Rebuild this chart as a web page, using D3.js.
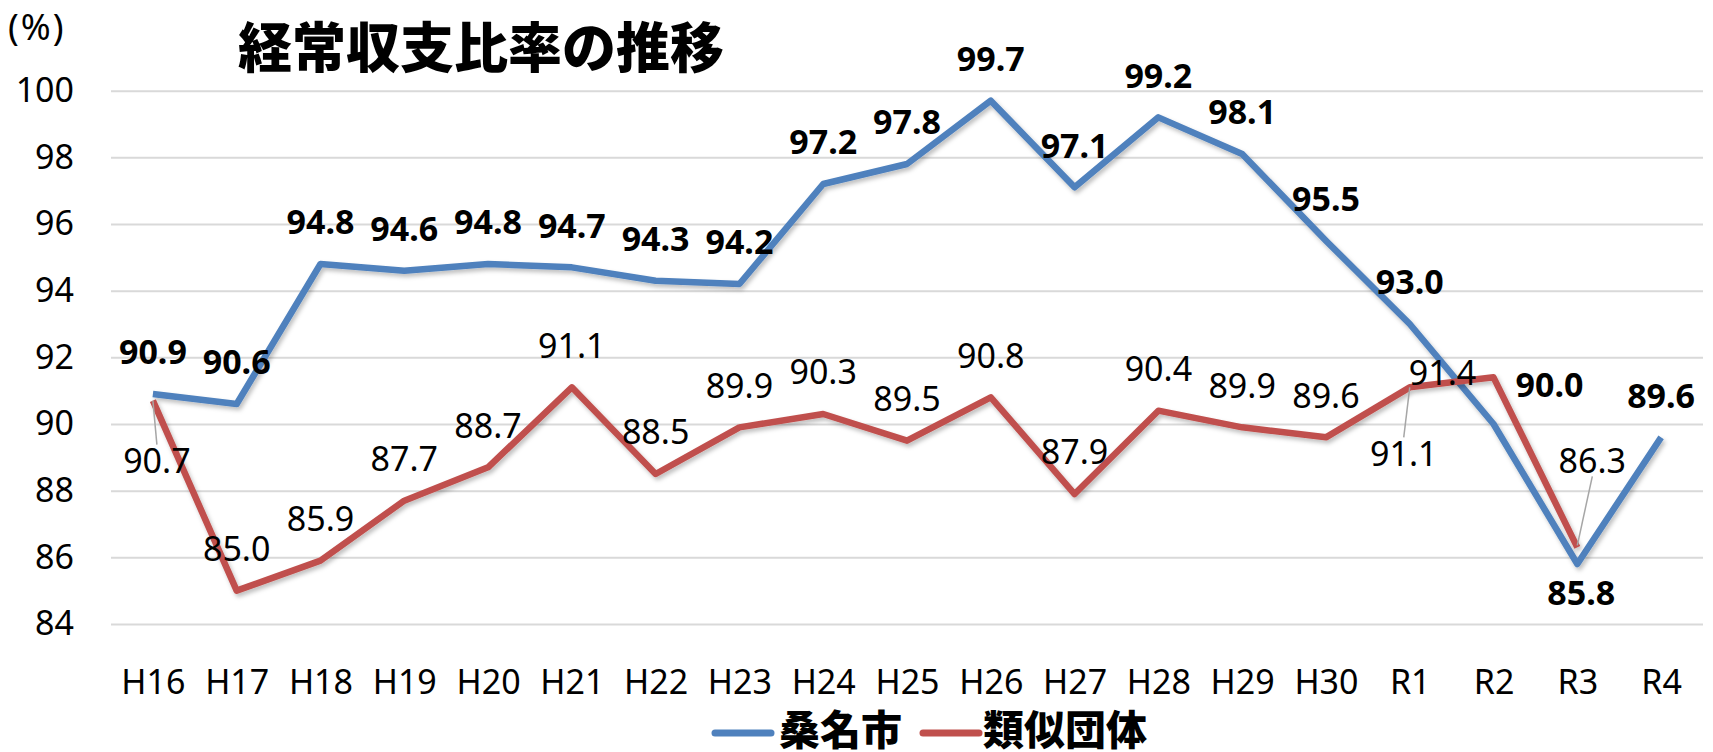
<!DOCTYPE html>
<html>
<head>
<meta charset="utf-8">
<script src="https://cdn.jsdelivr.net/npm/d3@7"></script>
<style>
  body { margin: 0; background: #fff; }
  svg { display: block; }
</style>
</head>
<body>
<svg id="chart" width="1713" height="752"></svg>
<script>
// data
const categories = ['H16', 'H17', 'H18', 'H19', 'H20', 'H21', 'H22', 'H23', 'H24', 'H25',
                    'H26', 'H27', 'H28', 'H29', 'H30', 'R1', 'R2', 'R3', 'R4'];
const kuwana = [90.9, 90.6, 94.8, 94.6, 94.8, 94.7, 94.3, 94.2, 97.2, 97.8,
                99.7, 97.1, 99.2, 98.1, 95.5, 93.0, 90.0, 85.8, 89.6];
const ruiji  = [90.7, 85.0, 85.9, 87.7, 88.7, 91.1, 88.5, 89.9, 90.3, 89.5,
                90.8, 87.9, 90.4, 89.9, 89.6, 91.1, 91.4, 86.3, null];
const seriesNames = ['桑名市', '類似団体'];
const yTicks = [84, 86, 88, 90, 92, 94, 96, 98, 100];

const colors = ['#4f81bd', '#c0504d'];
const numFont = '"Noto Sans", "Open Sans", sans-serif';
const jpFont = '"Noto Sans CJK JP", sans-serif';

// label nudges (index -> [dx, dy] from point); default sits above
const LABEL_DY = -42;
const kuwanaNudge = { 16: [56, -39], 17: [4, 29] };
const ruijiNudge = { 0: [4, 60], 15: [-6, 66], 16: [-51, -5], 17: [15, -87] };
const ruijiLeader = { 0: true, 15: true, 17: true };

const svg = d3.select('#chart');

const x = d3.scalePoint()
  .domain(categories)
  .range([111, 1703])
  .padding(0.5);

const y = d3.scaleLinear()
  .domain([84, 100])
  .range([624, 90.7]);

// shadow like the excel one
const defs = svg.append('defs');
const f = defs.append('filter').attr('id', 'shadow')
  .attr('x', '-5%').attr('y', '-5%').attr('width', '110%').attr('height', '120%');
f.append('feDropShadow')
  .attr('dx', 2).attr('dy', 3).attr('stdDeviation', 2)
  .attr('flood-color', '#000').attr('flood-opacity', 0.25);

// y axis + gridlines
const yAxis = svg.append('g')
  .attr('transform', 'translate(111,0)')
  .call(d3.axisLeft(y).tickValues(yTicks).tickSize(-(1703 - 111)).tickPadding(37));
yAxis.select('.domain').remove();
yAxis.selectAll('.tick line').attr('stroke', '#d9d9d9').attr('stroke-width', 2);
yAxis.selectAll('.tick text')
  .attr('font-family', numFont)
  .attr('font-size', 34)
  .attr('fill', '#000');

// x axis labels
const xAxis = svg.append('g')
  .attr('transform', 'translate(0,682)')
  .call(d3.axisBottom(x).tickSize(0).tickPadding(0));
xAxis.select('.domain').remove();
xAxis.selectAll('.tick text')
  .attr('y', 0)
  .attr('dy', '0.36em')
  .attr('font-family', numFont)
  .attr('font-size', 34)
  .attr('fill', '#000');

// lines
const line = d3.line()
  .defined(d => d != null)
  .x((d, i) => x(categories[i]))
  .y(d => y(d));

[kuwana, ruiji].forEach((vals, s) => {
  svg.append('path')
    .datum(vals)
    .attr('fill', 'none')
    .attr('stroke', colors[s])
    .attr('stroke-width', 6.5)
    .attr('stroke-linejoin', 'round')
    .attr('filter', 'url(#shadow)')
    .attr('d', line);
});

// leader lines for moved labels
const leaders = svg.append('g');
ruiji.forEach((v, i) => {
  if (!ruijiLeader[i]) return;
  const [dx, dy] = ruijiNudge[i];
  const px = x(categories[i]), py = y(v);
  const ly = dy > 0 ? py + dy - 16 : py + dy + 16;
  leaders.append('line')
    .attr('x1', px).attr('y1', py + (dy > 0 ? 0 : -2))
    .attr('x2', px + dx).attr('y2', ly)
    .attr('stroke', '#a6a6a6').attr('stroke-width', 1.5);
});

// data labels
function addLabels(vals, nudge, bold) {
  svg.append('g').selectAll('text')
    .data(vals.map((v, i) => ({ v, i })).filter(d => d.v != null))
    .join('text')
    .attr('x', d => x(categories[d.i]) + (nudge[d.i] ? nudge[d.i][0] : 0))
    .attr('y', d => y(d.v) + (nudge[d.i] ? nudge[d.i][1] : LABEL_DY))
    .attr('dy', '0.36em')
    .attr('text-anchor', 'middle')
    .attr('font-family', numFont)
    .attr('font-size', 34)
    .attr('font-weight', bold ? 'bold' : 'normal')
    .attr('fill', '#000')
    .text(d => d.v.toFixed(1));
}
addLabels(kuwana, kuwanaNudge, true);
addLabels(ruiji, ruijiNudge, false);

// title and unit
svg.append('text')
  .attr('x', 238).attr('y', 49)
  .attr('dy', '0.36em')
  .attr('font-family', jpFont)
  .attr('font-weight', 900)
  .attr('font-size', 54)
  .text('経常収支比率の推移');

svg.append('text')
  .attr('x', 8).attr('y', 27)
  .attr('dy', '0.36em')
  .attr('font-family', numFont)
  .attr('font-size', 36)
  .attr('letter-spacing', 2)
  .text('(%)');

// legend
const legendPos = [[715, 779], [923, 983]];
const legend = svg.append('g');
seriesNames.forEach((name, s) => {
  legend.append('line')
    .attr('x1', legendPos[s][0]).attr('x2', legendPos[s][0] + 56)
    .attr('y1', 733).attr('y2', 733)
    .attr('stroke', colors[s])
    .attr('stroke-width', 7)
    .attr('stroke-linecap', 'round');
  legend.append('text')
    .attr('x', legendPos[s][1]).attr('y', 730)
    .attr('dy', '0.36em')
    .attr('font-family', jpFont)
    .attr('font-weight', 900)
    .attr('font-size', 41)
    .text(name);
});
</script>
</body>
</html>
